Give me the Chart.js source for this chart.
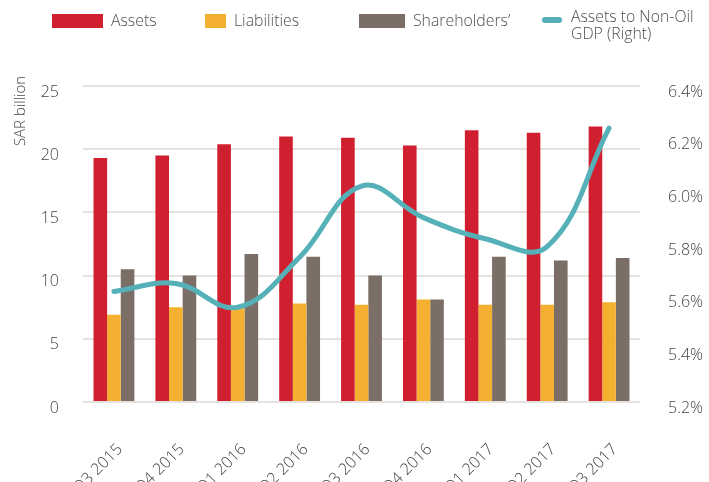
<!DOCTYPE html>
<html>
<head>
<meta charset="utf-8">
<script src="https://cdn.jsdelivr.net/npm/chart.js"></script>
<style>
  html, body { margin: 0; padding: 0; background: #fff; overflow: hidden; }
  #wrap { position: relative; width: 709px; height: 482px; font-family: "Open Sans", sans-serif; color: #4d4d4d; }
  canvas { position: absolute; left: 0; top: 0; }
  .lg { position: absolute; font-size: 17px; font-weight: 300; line-height: 17px; white-space: nowrap;
        transform: scaleX(0.93); transform-origin: 0 0; }
  .sw { position: absolute; }
</style>
</head>
<body>
<div id="wrap">
  <canvas id="c" width="709" height="482"></canvas>
  <div class="sw" style="left:52px;top:14px;width:51px;height:14px;background:#d0202f"></div>
  <div class="lg" style="left:111px;top:11px">Assets</div>
  <div class="sw" style="left:205px;top:14px;width:21px;height:14px;background:#f4b131"></div>
  <div class="lg" style="left:234px;top:11px">Liabilities</div>
  <div class="sw" style="left:359px;top:14px;width:46px;height:14px;background:#7b6e66"></div>
  <div class="lg" style="left:413px;top:11px">Shareholders’</div>
  <div class="sw" style="left:542px;top:17px;width:20px;height:6px;border-radius:3px;background:#55b0b8"></div>
  <div class="lg" style="left:571px;top:7px">Assets to Non-Oil<br>GDP (Right)</div>
</div>
<script>
const categories = ["Q3 2015", "Q4 2015", "Q1 2016", "Q2 2016", "Q3 2016", "Q4 2016", "Q1 2017", "Q2 2017", "Q3 2017"];
const assets = [19.3, 19.5, 20.4, 21.0, 20.9, 20.3, 21.5, 21.3, 21.8];
const liabilities = [6.9, 7.5, 7.4, 7.8, 7.7, 8.1, 7.7, 7.7, 7.9];
const shareholders = [10.5, 10.0, 11.7, 11.5, 10.0, 8.1, 11.5, 11.2, 11.4];
const assetsToGdp = [5.62, 5.65, 5.56, 5.75, 6.02, 5.90, 5.82, 5.79, 6.24];

const tickFont = { family: "Open Sans", size: 16, weight: 300 };
const textColor = "#444";
const gridColor = "#e6e2e0";

// y axis title sits near the top, so draw it by hand
const axisTitle = {
  id: "axisTitle",
  afterDraw(chart) {
    const ctx = chart.ctx;
    ctx.save();
    ctx.translate(21, 111);
    ctx.rotate(-Math.PI / 2);
    ctx.font = "300 15px 'Open Sans'";
    ctx.fillStyle = textColor;
    ctx.textAlign = "center";
    ctx.textBaseline = "middle";
    ctx.fillText("SAR billion", 0, 0);
    ctx.restore();
  },
};

new Chart(document.getElementById("c"), {
  data: {
    labels: categories,
    datasets: [
      { type: "line", label: "Assets to Non-Oil GDP (Right)", data: assetsToGdp, yAxisID: "y1",
        borderColor: "#55b0b8", borderWidth: 5, pointRadius: 0, tension: 0.4, borderCapStyle: "round" },
      { type: "bar", label: "Assets", data: assets, backgroundColor: "#d0202f", yAxisID: "y",
        categoryPercentage: 0.66, barPercentage: 1 },
      { type: "bar", label: "Liabilities", data: liabilities, backgroundColor: "#f4b131", yAxisID: "y",
        categoryPercentage: 0.66, barPercentage: 1 },
      { type: "bar", label: "Shareholders’", data: shareholders, backgroundColor: "#7b6e66", yAxisID: "y",
        categoryPercentage: 0.66, barPercentage: 1 },
    ],
  },
  options: {
    responsive: false,
    animation: false,
    layout: { padding: { top: 86, left: 0, right: 0, bottom: 0 } },
    plugins: { legend: { display: false }, tooltip: { enabled: false } },
    scales: {
      x: {
        grid: { display: false },
        border: { display: false },
        ticks: { font: tickFont, color: textColor, minRotation: 45, maxRotation: 45, padding: 30, labelOffset: 6 },
        afterFit: (s) => { s.height = 80; },
      },
      y: {
        position: "left",
        min: 0, max: 25,
        ticks: { stepSize: 5, font: tickFont, color: textColor, padding: 24, labelOffset: 6 },
        grid: { color: gridColor, lineWidth: 2, drawTicks: false },
        border: { display: false },
        afterFit: (s) => { s.width = 83; },
      },
      y1: {
        position: "right",
        min: 5.2, max: 6.4,
        ticks: { stepSize: 0.2, font: tickFont, color: textColor, padding: 28, labelOffset: 6,
          callback: (v) => v.toFixed(1) + "%" },
        grid: { display: false, drawTicks: false },
        border: { display: false },
        afterFit: (s) => { s.width = 69; },
      },
    },
  },
  plugins: [axisTitle],
});
</script>
</body>
</html>
